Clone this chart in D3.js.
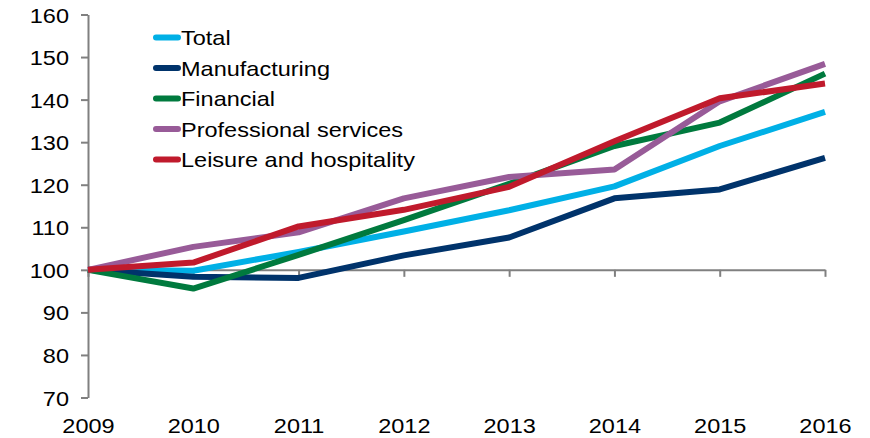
<!DOCTYPE html>
<html>
<head>
<meta charset="utf-8">
<script src="https://cdn.jsdelivr.net/npm/d3@7/dist/d3.min.js"></script>
<style>
  html, body { margin: 0; padding: 0; background: #fff; }
  svg { display: block; }
  text { font-family: "Liberation Sans", Arial, sans-serif; fill: #000; }
</style>
</head>
<body>
<svg id="chart" width="870" height="438"></svg>
<script>
// Index values, 2009 = 100
const years = [2009, 2010, 2011, 2012, 2013, 2014, 2015, 2016];
const seriesNames = ["Total", "Manufacturing", "Financial", "Professional services", "Leisure and hospitality"];
const seriesColors = ["#00b0e6", "#00336b", "#007a3e", "#985b98", "#c01a2c"];
const totalValues = [100, 99.8, 104.2, 109.0, 114.0, 119.6, 129.1, 137.1];
const manufacturingValues = [100, 98.4, 98.1, 103.4, 107.6, 116.8, 118.9, 126.3];
const financialValues = [100, 95.6, 103.5, 111.7, 120.2, 129.1, 134.6, 146.1];
const professionalValues = [100, 105.4, 108.8, 116.8, 121.8, 123.6, 139.6, 148.4];
const leisureValues = [100, 101.7, 110.2, 114.1, 119.5, 130.2, 140.3, 143.8];
const yTicks = [70, 80, 90, 100, 110, 120, 130, 140, 150, 160];

const seriesValues = [totalValues, manufacturingValues, financialValues, professionalValues, leisureValues];

const svg = d3.select("#chart");
const stretch = 1.12;   // horizontally widened type
const fontSize = 21;

const x = d3.scaleLinear().domain([2009, 2016]).range([88, 825]);
const y = d3.scaleLinear().domain([70, 160]).range([397.5, 14.5]);

const axisColor = "#808080";

// Vertical axis
const yAxis = svg.append("g")
  .attr("transform", "translate(88,0)")
  .call(d3.axisLeft(y).tickValues(yTicks).tickSize(7).tickSizeOuter(0).tickFormat(d3.format("d")));
yAxis.select(".domain").attr("stroke", axisColor).attr("stroke-width", 2);
yAxis.selectAll(".tick line").attr("stroke", axisColor).attr("stroke-width", 2);
yAxis.selectAll(".tick text")
  .attr("x", null).attr("dy", null)
  .attr("font-size", fontSize)
  .attr("text-anchor", "end")
  .attr("transform", "translate(-19,7.6) scale(" + stretch + ",1)");

// Horizontal axis crossing at 100
const xAxis = svg.append("g")
  .attr("transform", "translate(0," + y(100) + ")")
  .call(d3.axisBottom(x).tickValues(years).tickSize(7).tickSizeOuter(0).tickFormat(d3.format("d")));
xAxis.select(".domain").attr("stroke", axisColor).attr("stroke-width", 2);
xAxis.selectAll(".tick line").attr("stroke", axisColor).attr("stroke-width", 2);
xAxis.selectAll(".tick text")
  .attr("y", null).attr("dy", null)
  .attr("font-size", fontSize)
  .attr("text-anchor", "middle")
  .attr("transform", "translate(0," + (433 - y(100)) + ") scale(" + stretch + ",1)");

// Series lines
const line = d3.line()
  .x((d, i) => x(years[i]))
  .y(d => y(d));

svg.append("g")
  .selectAll("path")
  .data(seriesValues)
  .join("path")
  .attr("d", line)
  .attr("fill", "none")
  .attr("stroke", (d, i) => seriesColors[i])
  .attr("stroke-width", 6)
  .attr("stroke-linejoin", "round");

// Legend
const legend = svg.append("g");
const legendRows = legend.selectAll("g")
  .data(seriesNames)
  .join("g")
  .attr("transform", (d, i) => "translate(0," + (37.5 + i * 30.5) + ")");
legendRows.append("line")
  .attr("x1", 156).attr("x2", 178)
  .attr("stroke", (d, i) => seriesColors[i])
  .attr("stroke-width", 6)
  .attr("stroke-linecap", "round");
legendRows.append("text")
  .attr("font-size", fontSize)
  .attr("transform", "translate(181,7.6) scale(" + stretch + ",1)")
  .text(d => d);
</script>
</body>
</html>
